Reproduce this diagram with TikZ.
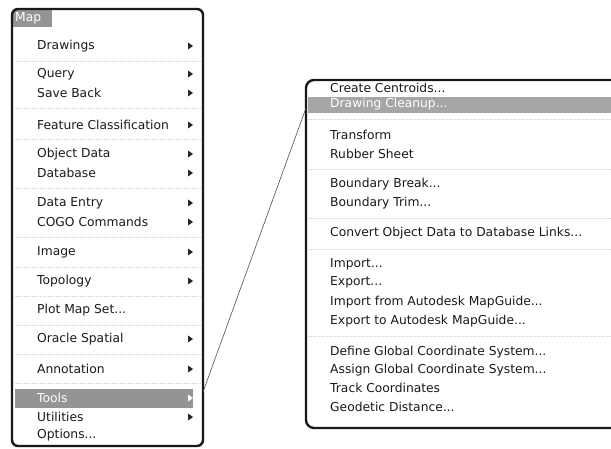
\documentclass[tikz,border=0pt]{standalone}
\usepackage{fontspec}
\setmainfont{DejaVu Sans}
\newcommand\mdots{...}
\begin{document}
\begin{tikzpicture}[x=1pt,y=-1pt,
  item/.style={anchor=west,inner sep=0pt,font=\fontsize{12.3}{14}\selectfont,text=black!90},
  hitem/.style={item,text=white},
  sub/.style={fill=black!85,draw=none},
  hsub/.style={fill=white,draw=none},
  frame/.style={line width=2.4pt,draw=black!90,rounded corners=6pt},
  sep/.style={draw=black!15,densely dotted,line width=0.6pt},
  hl/.style={fill=black!42,draw=none},
  conn/.style={draw=black!70,line width=0.6pt}]
\useasboundingbox (0,0) rectangle (611,449);
% ---------- left menu ----------
\node[hl,minimum width=39pt,minimum height=17pt,anchor=north west,inner sep=0pt] (maphl) at (13,10) {};
\node[hitem] (map) at (15,18.5) {Map};
\node[hl,minimum width=178pt,minimum height=19pt,anchor=north west,inner sep=0pt] (tools) at (15,389) {};
\draw[frame] (12,9) rectangle (203,446);
\foreach \y in {61,108,139,188,237,267,296,325,354,383}
  \draw[sep] (14,\y) -- (201,\y);
\foreach \t/\y/\a [count=\i] in {Drawings/46/1,Query/74/1,Save Back/93/1,Feature Classification/125/1,
  Object Data/154/1,Database/173/1,Data Entry/203/1,COGO Commands/222/1,Image/252/1,Topology/281/1,
  Plot Map Set\mdots/310/0,Oracle Spatial/339/1,Annotation/369/1,Utilities/417/1,Options\mdots/435/0}{
  \node[item] (l\i) at (37,\y) {\t};
  \ifnum\a=1 \fill[sub] (188,\y-3.5) -- (193,\y) -- (188,\y+3.5) -- cycle;\fi
}
\node[hitem] (toolst) at (37,398) {Tools};
\fill[hsub] (188,394.5) -- (193,398) -- (188,401.5) -- cycle;
% ---------- right menu ----------
\node[hl,fill=black!35,minimum width=303pt,minimum height=16pt,anchor=north west,inner sep=0pt] (cleanhl) at (308,97) {};
\draw[frame,rounded corners=8pt] (615,80) -- (306,80) -- (306,428) -- (615,428);
\foreach \y in {119,169,218,249,336}
  \draw[sep] (308,\y) -- (611,\y);
\foreach \t/\y [count=\i] in {Create Centroids\mdots/88,Transform/135,Rubber Sheet/154,Boundary Break\mdots/184,
  Boundary Trim\mdots/203,Convert Object Data to Database Links\mdots/233,Import\mdots/264,Export\mdots/282,
  Import from Autodesk MapGuide\mdots/302,Export to Autodesk MapGuide\mdots/321,
  Define Global Coordinate System\mdots/352,Assign Global Coordinate System\mdots/370,
  Track Coordinates/388,Geodetic Distance\mdots/407}{
  \node[item] (r\i) at (330,\y) {\t};
}
\node[hitem] (clean) at (330,104.5) {Drawing Cleanup\mdots};
% ---------- connector ----------
\coordinate (c1) at (203,392);
\coordinate (c2) at (306,108);
\draw[conn] (c1) -- (c2);
\end{tikzpicture}
\end{document}
